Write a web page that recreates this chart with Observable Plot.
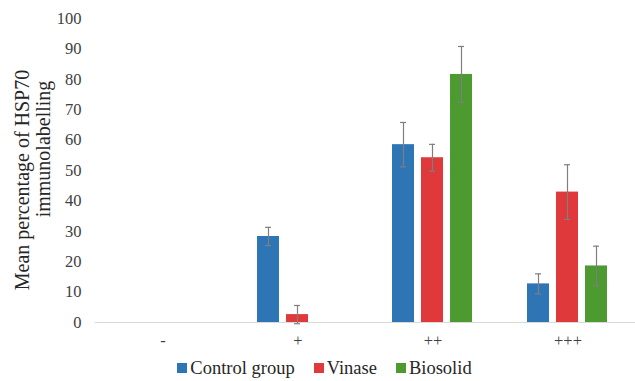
<!DOCTYPE html>
<html><head><meta charset="utf-8">
<style>
body{margin:0;background:#fff;font-family:'Liberation Serif','Times New Roman',serif;}
#legend{display:flex;justify-content:center;align-items:center;gap:19px;font-size:18.5px;color:#262626;height:26px;padding-left:14px;}
#legend span.item{display:flex;align-items:center;}
#legend i{display:inline-block;width:10px;height:10px;margin-right:3px;}
</style>
<script src="https://cdn.jsdelivr.net/npm/d3@7"></script>
<script src="https://cdn.jsdelivr.net/npm/@observablehq/plot@0.6"></script>
</head>
<body><div id="chart"></div>
<div id="legend"><span class="item"><i style="background:#2e75b6"></i><span>Control group</span></span><span class="item"><i style="background:#e0393b"></i><span>Vinase</span></span><span class="item"><i style="background:#4c9a30"></i><span>Biosolid</span></span></div>
<script>
const categories = ["-", "+", "++", "+++"];
const series = ["Control group", "Vinase", "Biosolid"];
const colors = ["#2e75b6", "#e0393b", "#4c9a30"];
const control = [0, 28.3, 58.5, 12.7];
const controlErr = [0, 3.0, 7.3, 3.3];
const vinase = [0, 2.6, 54.2, 42.9];
const vinaseErr = [0, 3.0, 4.4, 9.0];
const biosolid = [0, 0, 81.6, 18.6];
const biosolidErr = [0, 0, 9.2, 6.5];
const yTicks = [0, 10, 20, 30, 40, 50, 60, 70, 80, 90, 100];
const yTitle = ["Mean percentage of HSP70", "immunolabelling"];

const FONT = "'Liberation Serif', 'Times New Roman', serif";
const values = [control, vinase, biosolid];
const errs = [controlErr, vinaseErr, biosolidErr];
const data = [];
categories.forEach((c, i) => series.forEach((s, j) => {
  data.push({cat: c, series: s, value: values[j][i], err: errs[j][i]});
}));
const withErr = data.filter(d => d.err > 0);

const chart = Plot.plot({
  width: 635, height: 355,
  marginLeft: 95, marginRight: 0, marginTop: 18, marginBottom: 33,
  style: {fontFamily: FONT, fontSize: "16.5px", color: "#404040", background: "#fff"},
  fx: {domain: categories, padding: 0, label: null},
  x: {domain: series, paddingInner: 0.23, paddingOuter: 0.87, axis: null},
  y: {domain: [0, 100], ticks: yTicks, label: null},
  color: {domain: series, range: colors},
  marks: [
    Plot.axisY({ticks: yTicks, tickSize: 0, tickPadding: 14, label: null, fontSize: 16.5}),
    Plot.axisFx({anchor: "bottom", tickSize: 0, tickPadding: 12, label: null, fontSize: 16.5}),
    Plot.barY(data, {fx: "cat", x: "series", y: "value", fill: "series"}),
    Plot.ruleY([0], {stroke: "#d9d9d9", strokeWidth: 1.2}),
    Plot.ruleX(withErr, {fx: "cat", x: "series", y1: d => d.value - d.err, y2: d => d.value + d.err, stroke: "#7f7f7f", strokeWidth: 1.2}),
    Plot.tickY(withErr, {fx: "cat", x: "series", y: d => d.value + d.err, stroke: "#7f7f7f", strokeWidth: 1.2, insetLeft: 8, insetRight: 8}),
    Plot.tickY(withErr, {fx: "cat", x: "series", y: d => d.value - d.err, stroke: "#7f7f7f", strokeWidth: 1.2, insetLeft: 8, insetRight: 8})
  ]
});
document.getElementById("chart").appendChild(chart);

// axis title (two lines, rotated)
const svg = d3.select(chart);
const titlePos = [[22, 180], [43, 149]];
yTitle.forEach((t, i) => {
  svg.append("text")
    .attr("transform", `translate(${titlePos[i][0]},${titlePos[i][1]}) rotate(-90)`)
    .attr("text-anchor", "middle").attr("dominant-baseline", "central")
    .attr("font-size", 20)
    .attr("fill", "#262626").text(t);
});

document.querySelectorAll("svg, svg g, svg text, svg tspan").forEach(el => {
  el.style.setProperty("font-family", FONT, "important");
});
</script></body></html>
